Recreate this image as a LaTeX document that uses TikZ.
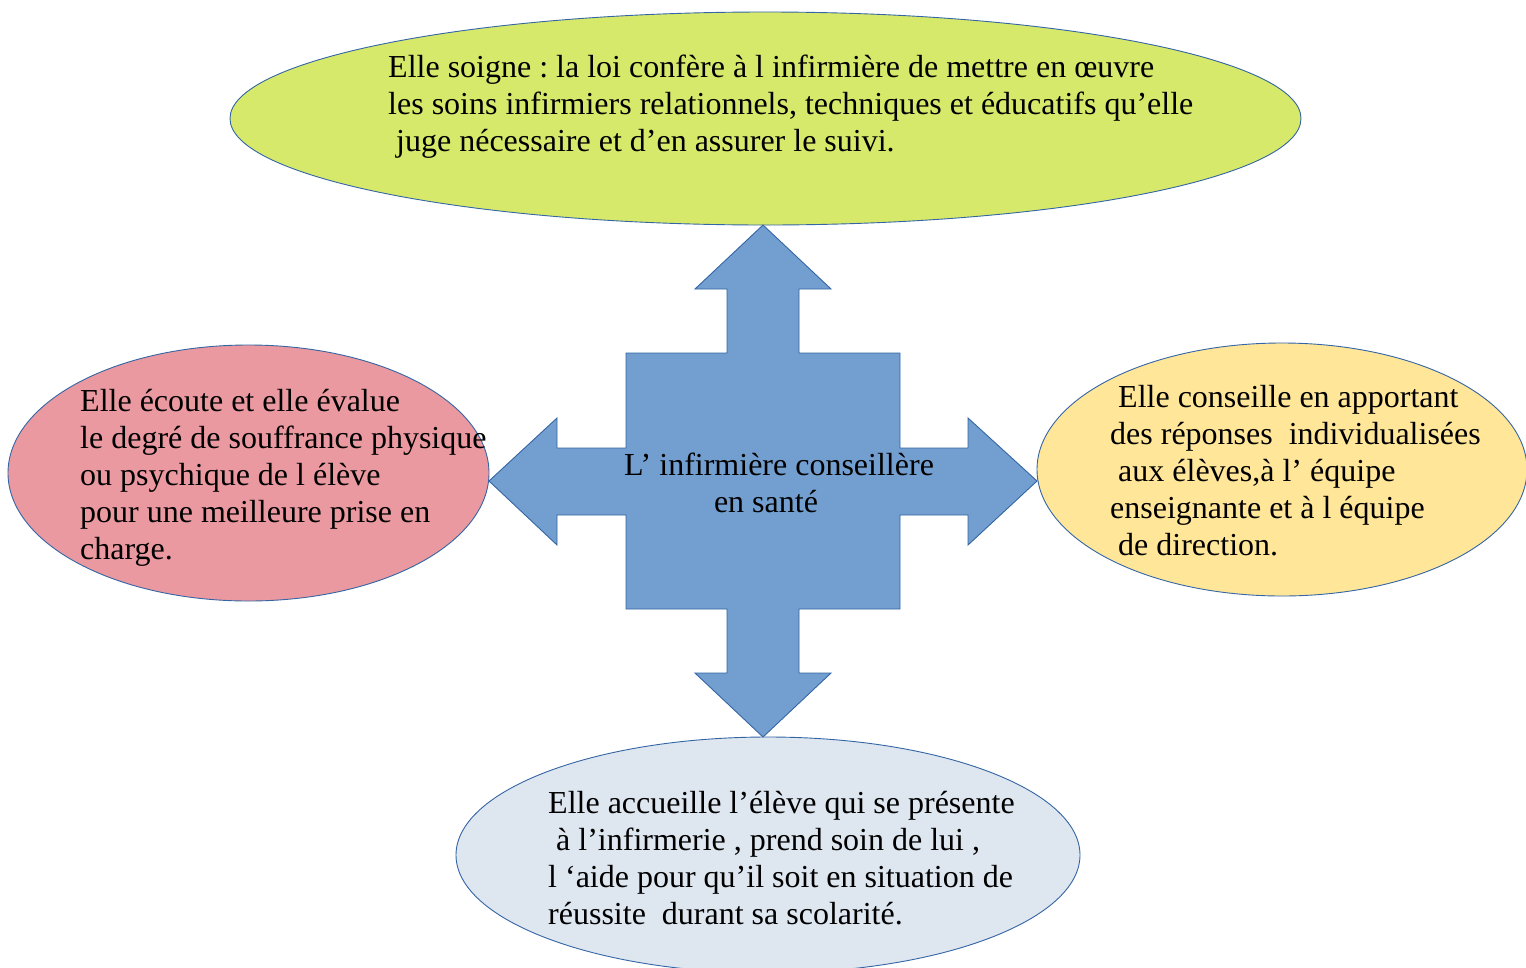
\documentclass[tikz,border=0pt]{standalone}
\usepackage{fontspec}
\setmainfont{Liberation Serif}
\usetikzlibrary{shapes.geometric}
\definecolor{soinVert}{RGB}{215,233,107}
\definecolor{ecouteRose}{RGB}{234,153,160}
\definecolor{conseilJaune}{RGB}{255,230,153}
\definecolor{accueilGris}{RGB}{222,230,240}
\definecolor{croixBleu}{RGB}{114,159,207}
\definecolor{bordBleu}{RGB}{52,101,164}
\newcommand{\BubbleFont}{\fontsize{32}{37}\selectfont\frenchspacing}
\tikzstyle{Bubble}=[ellipse, draw=bordBleu, line width=0.9pt, inner sep=0pt]
\tikzstyle{BubbleText}=[anchor=north west, inner sep=0pt, align=left, font=\BubbleFont]
\tikzstyle{CrossShape}=[fill=croixBleu, draw=bordBleu, line width=0.9pt, line join=miter]

\begin{document}
\begin{tikzpicture}[x=1pt,y=-1pt]
\useasboundingbox (0,0) rectangle (1526,967);

\node[Bubble, fill=soinVert, minimum width=1071pt, minimum height=213pt](Soin) at (765.5,118.5) {};
\node[Bubble, fill=ecouteRose, minimum width=481pt, minimum height=256pt](Ecoute) at (248.5,473) {};
\node[Bubble, fill=conseilJaune, minimum width=490pt, minimum height=253pt](Conseil) at (1282,469.5) {};
\node[Bubble, fill=accueilGris, minimum width=624pt, minimum height=236pt](Accueil) at (768,855) {};

\draw[CrossShape] (763,225) -- (831,289) -- (799,289) -- (799,353) -- (900,353) -- (900,448)
  -- (968,448) -- (968,418) -- (1037,481) -- (968,545) -- (968,515) -- (900,515) -- (900,609)
  -- (799,609) -- (799,673) -- (831,673) -- (763,737) -- (695,673) -- (727,673) -- (727,609)
  -- (626,609) -- (626,515) -- (557,515) -- (557,545) -- (489,481) -- (557,418) -- (557,448)
  -- (626,448) -- (626,353) -- (727,353) -- (727,289) -- (695,289) -- cycle;

\node[inner sep=0pt, align=center, font=\BubbleFont](Centre) at (779,483)
  {L’ infirmière conseillère\\en santé\hspace*{26pt}};

\node[BubbleText](SoinTxt) at (388,51)
  {\strut Elle soigne : la loi confère à l infirmière de mettre en œuvre\\
   les soins infirmiers relationnels, techniques et éducatifs qu’elle\\
   \hspace*{0.25em}juge nécessaire et d’en assurer le suivi.};
\node[BubbleText](EcouteTxt) at (80,385)
  {\strut Elle écoute et elle évalue\\
   le degré de souffrance physique\\
   ou psychique de l élève\\
   pour une meilleure prise en\\
   charge.};
\node[BubbleText](ConseilTxt) at (1110,381)
  {\strut\hspace*{0.25em}Elle conseille en apportant\\
   des réponses\ \ individualisées\\
   \hspace*{0.25em}aux élèves,à l’ équipe\\
   enseignante et à l équipe\\
   \hspace*{0.25em}de direction.};
\node[BubbleText](AccueilTxt) at (548,787)
  {\strut Elle accueille l’élève qui se présente\\
   \hspace*{0.25em}à l’infirmerie , prend soin de lui ,\\
   l ‘aide pour qu’il soit en situation de\\
   réussite\ \ durant sa scolarité.};
\end{tikzpicture}
\end{document}
